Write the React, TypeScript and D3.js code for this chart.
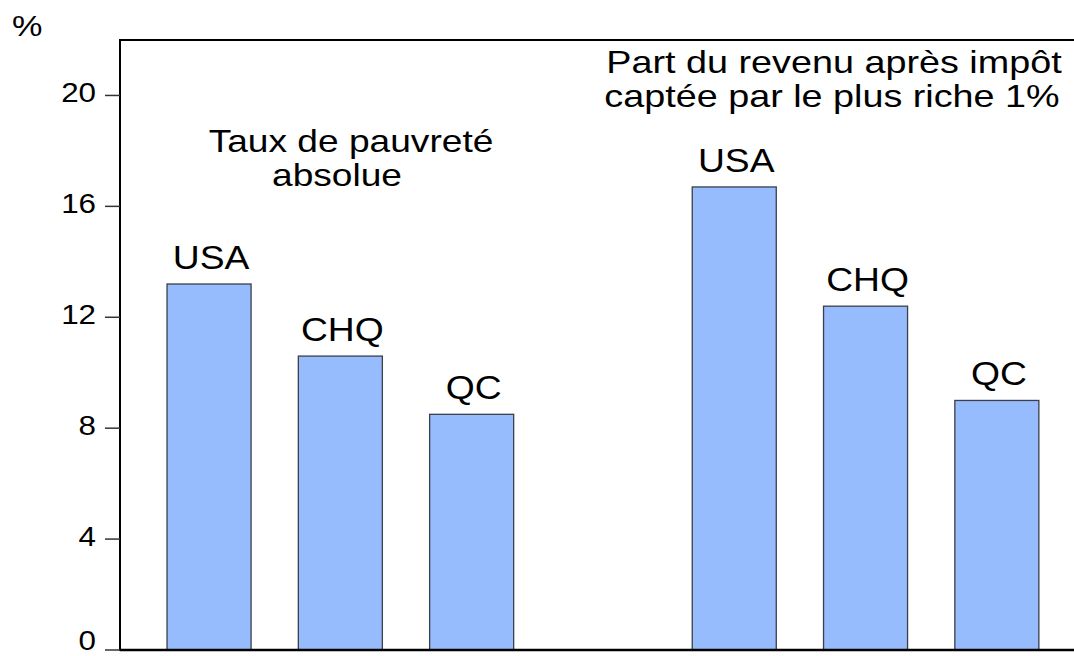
import React from "react";
import * as d3 from "d3";

const slots = ["p-USA", "p-CHQ", "p-QC", "gap", "r-USA", "r-CHQ", "r-QC"];
const barSlots = ["p-USA", "p-CHQ", "p-QC", "r-USA", "r-CHQ", "r-QC"];
const barLabels = ["USA", "CHQ", "QC", "USA", "CHQ", "QC"];
const barValues = [13.2, 10.6, 8.5, 16.7, 12.4, 9.0];
const yTicks = [0, 4, 8, 12, 16, 20];
const groupTitleLeft = ["Taux de pauvreté", "absolue"];
const groupTitleRight = ["Part du revenu après impôt", "captée par le plus riche 1%"];

const W = 1074;
const H = 656;
const plotLeft = 120;
const plotTop = 40;
const plotBottom = 650;

const FONT = "'Liberation Sans', Arial, sans-serif";

function SText({ x, y, sx, size, anchor = "middle", children }: any) {
  return (
    <g transform={`translate(${x},${y}) scale(${sx},1)`}>
      <text x={0} y={0} fontSize={size} fontFamily={FONT} textAnchor={anchor} fill="#000">
        {children}
      </text>
    </g>
  );
}

export default function App() {
  const y = d3.scaleLinear().domain([0, 22]).range([plotBottom, plotTop]);
  const x = d3
    .scaleBand<string>()
    .domain(slots)
    .range([143.4, 1062.5])
    .paddingInner(0.36)
    .paddingOuter(0.18);

  return (
    <svg
      width={W}
      height={H}
      style={{ position: "absolute", left: 0, top: 0, background: "#fff" }}
    >
      <rect x={0} y={0} width={W} height={H} fill="#fff" />
      {barSlots.map((s, i) => {
        const v = barValues[i];
        const bx = x(s)!;
        const bw = x.bandwidth();
        return (
          <g key={s}>
            <rect
              x={bx}
              y={y(v)}
              width={bw}
              height={y(0) - y(v)}
              fill="#96BCFD"
              stroke="#3a3f48"
              strokeWidth={1.3}
            />
            <SText x={bx + bw / 2 + 2} y={y(v) - 15} sx={1.13} size={33}>
              {barLabels[i]}
            </SText>
          </g>
        );
      })}
      <line x1={plotLeft} y1={plotTop} x2={W + 10} y2={plotTop} stroke="#000" strokeWidth={2} />
      <line x1={plotLeft} y1={plotBottom} x2={W + 10} y2={plotBottom} stroke="#000" strokeWidth={2.5} />
      <line x1={plotLeft} y1={plotTop - 1} x2={plotLeft} y2={plotBottom + 1} stroke="#000" strokeWidth={2} />
      {yTicks.map((t) => (
        <g key={t}>
          <line x1={105} x2={plotLeft} y1={y(t)} y2={y(t)} stroke="#333" strokeWidth={1.5} />
          <SText x={96} y={Math.min(y(t) + 6.5, 649.5)} sx={1.1} size={28.5} anchor="end">
            {t}
          </SText>
        </g>
      ))}
      <SText x={12} y={36} sx={1.18} size={29} anchor="start">
        %
      </SText>
      <SText x={351} y={152} sx={1.16} size={32}>
        {groupTitleLeft[0]}
      </SText>
      <SText x={337} y={186} sx={1.16} size={32}>
        {groupTitleLeft[1]}
      </SText>
      <SText x={834} y={73} sx={1.18} size={32}>
        {groupTitleRight[0]}
      </SText>
      <SText x={832} y={107} sx={1.18} size={32}>
        {groupTitleRight[1]}
      </SText>
    </svg>
  );
}
